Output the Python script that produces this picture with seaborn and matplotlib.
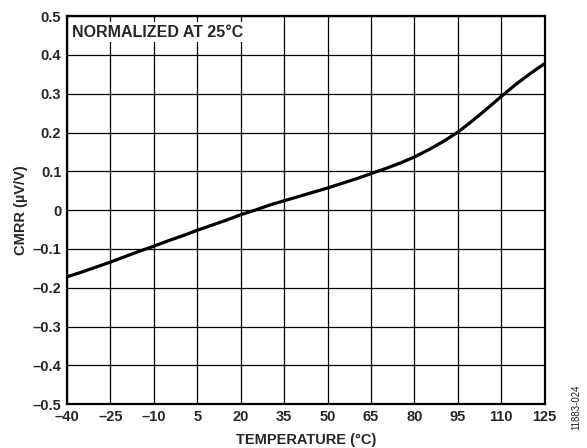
import numpy as np
import pandas as pd
import matplotlib
matplotlib.use("Agg")
import matplotlib.pyplot as plt
import seaborn as sns

# CMRR vs temperature, normalized at 25 C
temperature = [-40, -35, -30, -25, -20, -15, -10, -5, 0, 5, 10, 15, 20, 25, 30, 35,
               40, 45, 50, 55, 60, 65, 70, 75, 80, 85, 90, 95, 100, 105, 110, 115, 120, 125]
cmrr = [-0.172, -0.160, -0.147, -0.134, -0.120, -0.106, -0.093, -0.079, -0.066, -0.052,
        -0.039, -0.026, -0.012, 0.000, 0.013, 0.024, 0.035, 0.046, 0.057, 0.069, 0.081,
        0.094, 0.107, 0.121, 0.137, 0.156, 0.177, 0.201, 0.230, 0.261, 0.293, 0.324,
        0.352, 0.378]

x_ticks = [-40, -25, -10, 5, 20, 35, 50, 65, 80, 95, 110, 125]
y_ticks = [-0.5, -0.4, -0.3, -0.2, -0.1, 0, 0.1, 0.2, 0.3, 0.4, 0.5]


def fmt(v):
    s = str(v)
    return s.replace("-", "\u2013")


df = pd.DataFrame({"temp": temperature, "cmrr": cmrr})

sns.set_style("white")
plt.rcParams["font.family"] = ["Liberation Sans", "DejaVu Sans"]
plt.rcParams["font.weight"] = "bold"

fig = plt.figure(figsize=(5.87, 4.48), dpi=100)
ax = fig.add_axes([0.114, 0.098, 0.814, 0.866])

sns.lineplot(data=df, x="temp", y="cmrr", color="black", linewidth=2.3, ax=ax)

ax.set_xlim(-40, 125)
ax.set_ylim(-0.5, 0.5)
ax.set_xticks(x_ticks)
ax.set_yticks(y_ticks)
ax.set_xticklabels([fmt(v) for v in x_ticks], fontsize=10.5, fontweight="bold")
ax.set_yticklabels([fmt(v) for v in y_ticks], fontsize=10.5, fontweight="bold")
ax.grid(True, color="black", linewidth=0.9)
ax.tick_params(length=0, pad=4)
for sp in ax.spines.values():
    sp.set_color("black")
    sp.set_linewidth(1.6)

ax.set_xlabel("TEMPERATURE (°C)", fontsize=10.5, fontweight="bold", labelpad=7)
ax.set_ylabel("CMRR (µV/V)", fontsize=10.5, fontweight="bold", labelpad=3)

ax.text(-38.2, 0.478, "NORMALIZED AT 25°C", fontsize=11.5, fontweight="bold",
        va="top", ha="left",
        bbox=dict(facecolor="white", edgecolor="none", pad=2))

fig.text(0.982, 0.04, "11883-024", rotation=90, fontsize=7, fontweight="normal",
         color="#222222", ha="center", va="bottom")

fig.savefig("out.png", dpi=100)
